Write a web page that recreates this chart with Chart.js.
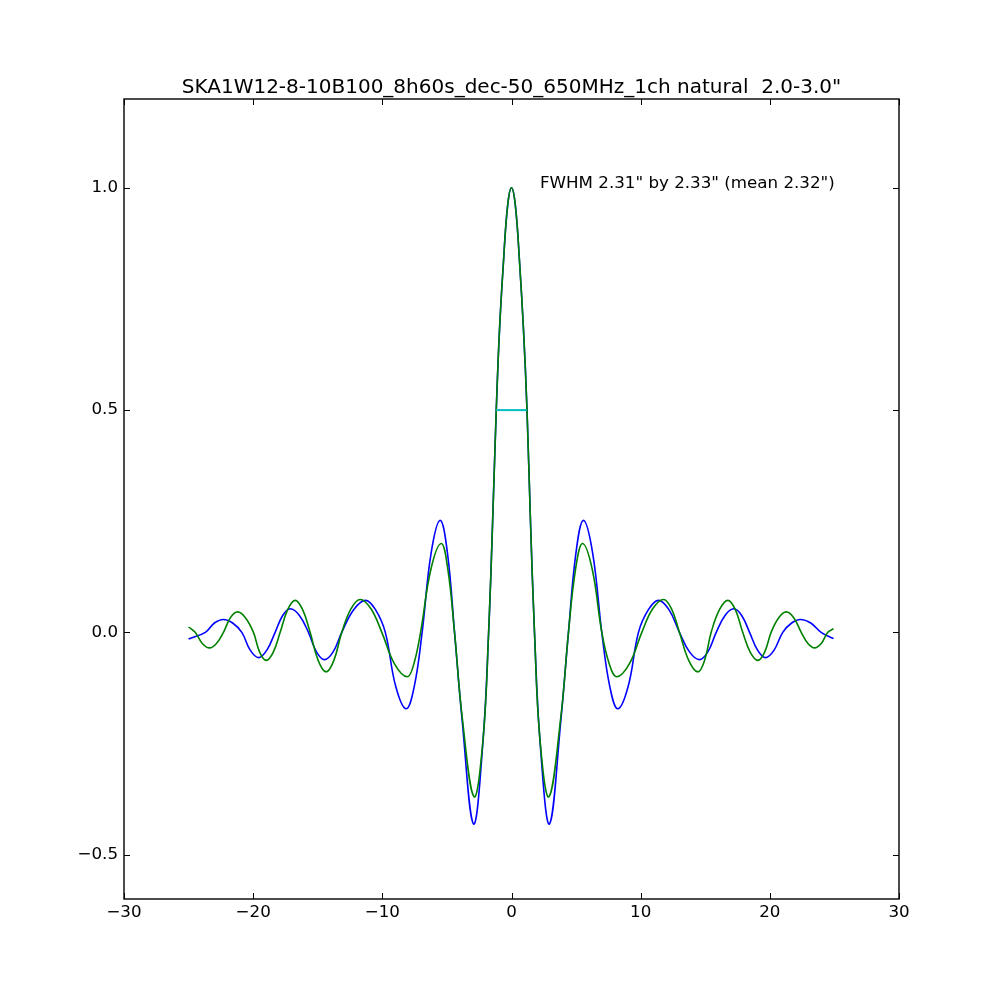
<!DOCTYPE html>
<html><head><meta charset="utf-8">
<script src="https://cdn.jsdelivr.net/npm/chart.js@4"></script>
<style>html,body{margin:0;padding:0;background:#fff}#wrap{width:1000px;height:1000px;position:relative}</style>
</head><body><div id="wrap"><canvas id="c"></canvas></div>
<script>
const titleText = 'SKA1W12-8-10B100_8h60s_dec-50_650MHz_1ch natural  2.0-3.0"';
const fwhmText = 'FWHM 2.31" by 2.33" (mean 2.32")';
const fwhmTextX = 2.2;
const fwhmTextY = 1.0;

const xTickValues = [-30, -20, -10, 0, 10, 20, 30];
const xTickLabels = ['\u221230', '\u221220', '\u221210', '0', '10', '20', '30'];
const yTickValues = [-0.5, 0.0, 0.5, 1.0];
const yTickLabels = ['\u22120.5', '0.0', '0.5', '1.0'];

const blueX = [-25.0, -23.7, -23.0, -22.3, -21.59, -20.88, -20.23, -19.59, -18.94, -18.3, -17.71, -17.13, -16.42, -15.72, -15.1, -14.48, -13.81, -13.14, -12.22, -11.3, -10.53, -9.77, -8.96, -8.15, -7.53, -6.92, -6.22, -5.52, -4.96, -4.41, -3.82, -2.94, -2.22, -1.77, -1.46, -1.18, -0.93, -0.63, -0.3, 0,
  0.3, 0.63, 0.93, 1.2, 1.47, 1.78, 2.22, 2.94, 3.82, 4.41, 4.99, 5.57, 6.28, 6.99, 7.61, 8.23, 9.03, 9.83, 10.6, 11.38, 12.19, 13.0, 13.78, 14.55, 15.2, 15.85, 16.53, 17.21, 17.82, 18.43, 19.05, 19.66, 20.33, 21.0, 21.69, 22.37, 23.17, 23.97, 24.93];
const blueY = [-0.015, 0, 0.021, 0.029, 0.021, 0, -0.040, -0.057, -0.040, 0, 0.038, 0.053, 0.038, 0, -0.044, -0.0615, -0.044, 0, 0.051, 0.072, 0.051, 0, -0.122, -0.172, -0.122, 0, 0.179, 0.252, 0.179, 0, -0.198, -0.431, -0.25, 0, 0.25, 0.5, 0.68, 0.83, 0.96, 1.0,
  0.96, 0.83, 0.68, 0.5, 0.25, 0, -0.25, -0.431, -0.198, 0, 0.179, 0.252, 0.179, 0, -0.122, -0.172, -0.122, 0, 0.051, 0.072, 0.051, 0, -0.044, -0.0615, -0.044, 0, 0.038, 0.053, 0.038, 0, -0.040, -0.057, -0.040, 0, 0.021, 0.029, 0.021, 0, -0.014];

const greenX = [-25.0, -24.49, -23.94, -23.38, -22.84, -22.3, -21.76, -21.21, -20.6, -19.98, -19.49, -18.99, -18.45, -17.91, -17.33, -16.75, -16.17, -15.59, -14.97, -14.35, -13.75, -13.14, -12.43, -11.71, -10.88, -10.04, -9.06, -8.07, -7.56, -7.04, -6.24, -5.44, -4.93, -4.41, -3.82, -2.9, -2.2, -1.77, -1.46, -1.18, -0.93, -0.63, -0.3, 0,
  0.3, 0.63, 0.93, 1.2, 1.47, 1.78, 2.2, 2.9, 3.82, 4.41, 4.96, 5.5, 6.25, 6.99, 7.57, 8.15, 9.12, 10.09, 10.93, 11.77, 12.39, 13.0, 13.72, 14.43, 14.95, 15.46, 16.1, 16.75, 17.33, 17.9, 18.49, 19.07, 19.59, 20.1, 20.69, 21.27, 21.85, 22.43, 22.95, 23.46, 23.98, 24.49, 24.93];
const greenY = [0.012, 0, -0.025, -0.035, -0.025, 0, 0.033, 0.046, 0.033, 0, -0.045, -0.063, -0.045, 0, 0.051, 0.072, 0.051, 0, -0.063, -0.089, -0.063, 0, 0.053, 0.074, 0.053, 0, -0.071, -0.1, -0.071, 0, 0.142, 0.2, 0.142, 0, -0.19, -0.37, -0.24, 0, 0.25, 0.5, 0.68, 0.83, 0.96, 1.0,
  0.96, 0.83, 0.68, 0.5, 0.25, 0, -0.24, -0.37, -0.19, 0, 0.142, 0.2, 0.142, 0, -0.071, -0.1, -0.071, 0, 0.053, 0.074, 0.053, 0, -0.063, -0.089, -0.063, 0, 0.051, 0.072, 0.051, 0, -0.045, -0.063, -0.045, 0, 0.033, 0.046, 0.033, 0, -0.025, -0.035, -0.025, 0, 0.008];

const fwhmX = [-1.18, 1.18];
const fwhmY = [0.5, 0.5];

function pts(xs, ys) { return xs.map((x, i) => ({x: x, y: ys[i]})); }

const FONT = 'DejaVu Sans';

const framePlugin = {
  id: 'frame',
  afterDraw(chart) {
    const ctx = chart.ctx, a = chart.chartArea;
    const xs = chart.scales.x, ys = chart.scales.y;
    ctx.save();
    ctx.strokeStyle = '#000';
    ctx.lineWidth = 1;
    const tl = 6;
    ctx.beginPath();
    xTickValues.forEach(v => {
      const p = Math.round(xs.getPixelForValue(v)) + 0.5;
      ctx.moveTo(p, a.bottom); ctx.lineTo(p, a.bottom - tl);
      ctx.moveTo(p, a.top); ctx.lineTo(p, a.top + tl);
    });
    yTickValues.forEach(v => {
      const p = Math.round(ys.getPixelForValue(v)) + 0.5;
      ctx.moveTo(a.left, p); ctx.lineTo(a.left + tl, p);
      ctx.moveTo(a.right, p); ctx.lineTo(a.right - tl, p);
    });
    ctx.stroke();
    ctx.lineWidth = 1.4;
    ctx.strokeRect(a.left, a.top, a.right - a.left, a.bottom - a.top);
    ctx.fillStyle = '#000';
    ctx.font = '20px "' + FONT + '"';
    ctx.textAlign = 'center';
    ctx.textBaseline = 'alphabetic';
    ctx.fillText(titleText, (a.left + a.right) / 2, 93);
    ctx.font = '16.7px "' + FONT + '"';
    ctx.textAlign = 'left';
    ctx.fillText(fwhmText, xs.getPixelForValue(fwhmTextX), ys.getPixelForValue(fwhmTextY));
    ctx.restore();
  }
};

new Chart(document.getElementById('c'), {
  type: 'line',
  data: {
    datasets: [
      {label: 'blue', order: 2, data: pts(blueX, blueY), borderColor: '#0000ff', borderWidth: 1.6, pointRadius: 0, tension: 0.4, fill: false},
      {label: 'green', order: 1, data: pts(greenX, greenY), borderColor: '#008000', borderWidth: 1.6, pointRadius: 0, tension: 0.4, fill: false},
      {label: 'fwhm', order: 0, data: pts(fwhmX, fwhmY), borderColor: '#00bfbf', borderWidth: 2, pointRadius: 0, fill: false}
    ]
  },
  options: {
    responsive: true,
    maintainAspectRatio: false,
    animation: false,
    devicePixelRatio: 1,
    layout: {padding: {left: 0, right: 101, top: 99, bottom: 0}},
    plugins: {legend: {display: false}, tooltip: {enabled: false}, title: {display: false}},
    scales: {
      x: {
        type: 'linear', min: -30, max: 30,
        border: {display: false},
        grid: {display: false, drawTicks: false},
        afterBuildTicks: s => { s.ticks = xTickValues.map(v => ({value: v})); },
        afterFit: s => { s.height = 101; },
        ticks: {
          autoSkip: false, maxRotation: 0, padding: 4, color: '#000',
          font: {family: FONT, size: 16.7},
          callback: v => { const i = xTickValues.indexOf(v); return i >= 0 ? xTickLabels[i] : ''; }
        }
      },
      y: {
        type: 'linear', min: -0.6, max: 1.2,
        border: {display: false},
        grid: {display: false, drawTicks: false},
        afterBuildTicks: s => { s.ticks = yTickValues.map(v => ({value: v})); },
        afterFit: s => { s.width = 124; },
        ticks: {
          autoSkip: false, padding: 6, color: '#000',
          font: {family: FONT, size: 16.7},
          callback: v => { const i = yTickValues.findIndex(t => Math.abs(t - v) < 1e-9); return i >= 0 ? yTickLabels[i] : ''; }
        }
      }
    }
  },
  plugins: [framePlugin]
});
</script>
</body></html>
